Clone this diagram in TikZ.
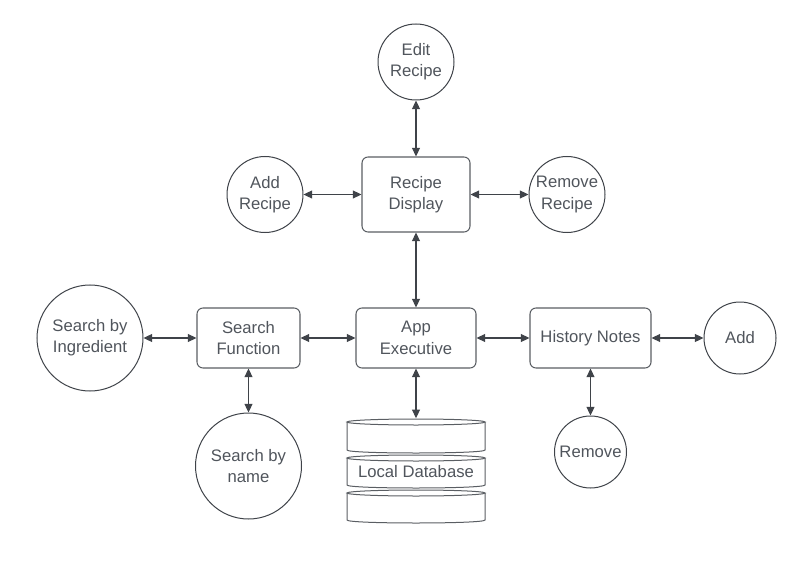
\documentclass[tikz,border=0pt]{standalone}
\usepackage{fontspec}
\setmainfont{Liberation Sans}
\usetikzlibrary{arrows.meta}
\definecolor{ln}{HTML}{3F4349}
\definecolor{bx}{HTML}{5A5E63}
\definecolor{tx}{HTML}{50555C}
\begin{document}
\begin{tikzpicture}[x=0.75pt,y=-0.75pt,
  lbl/.style={align=center, text=tx, font=\fontsize{12.5}{16}\selectfont, inner sep=0pt},
  box/.style={lbl, draw=bx, line width=0.8pt, rounded corners=4.5pt},
  circ/.style={lbl, draw=ln, line width=0.75pt, circle},
  conn/.style={draw=ln, line width=0.8pt, {Triangle[length=6.5pt,width=6pt]}-{Triangle[length=6.5pt,width=6pt]}},
  dbline/.style={draw=bx, line width=0.75pt}
]
\useasboundingbox (0,0) rectangle (806,570);

\node[box, minimum width=81pt, minimum height=56.25pt] (rd) at (416,194.5) {Recipe\\Display};
\node[box, minimum width=90pt, minimum height=45pt] (ae) at (416,338) {App\\Executive};
\node[box, minimum width=77.25pt, minimum height=45pt] (sf) at (248.5,338) {Search\\Function};
\node[box, minimum width=90.75pt, minimum height=45pt] (hn) at (590.5,338) {History Notes};

\node[circ, minimum size=57pt] (er) at (416,62) {Edit\\Recipe};
\node[circ, minimum size=57pt] (ar) at (265,194.5) {Add\\Recipe};
\node[circ, minimum size=57pt] (rr) at (567,194.5) {Remove\\Recipe};
\node[circ, minimum size=79.5pt] (si) at (90,338) {Search by\\Ingredient};
\node[circ, minimum size=54pt] (ad) at (740,338) {Add};
\node[circ, minimum size=79.5pt] (sn) at (248.5,466) {Search by\\name};
\node[circ, minimum size=54pt] (rm) at (590.5,452) {Remove};

% database
\foreach \t/\b in {419/453, 455/488, 490/523}{
  \draw[dbline] (416,\t+3) ellipse [x radius=51.75pt, y radius=2.25pt];
  \draw[dbline] (347,\t+3) -- (347,\b-3) .. controls (347,\b+1) and (485,\b+1) .. (485,\b-3) -- (485,\t+3);
}
\node[inner sep=0pt, minimum width=103.5pt, minimum height=78pt] (db) at (416,470.5) {};
\node[lbl] (dbl) at (416,472) {Local Database};

\draw[conn] (er) -- (rd);
\draw[conn] (ar) -- (rd);
\draw[conn] (rd) -- (rr);
\draw[conn] (rd) -- (ae);
\draw[conn] (si) -- (sf);
\draw[conn] (sf) -- (ae);
\draw[conn] (ae) -- (hn);
\draw[conn] (hn) -- (ad);
\draw[conn] (sf) -- (sn);
\draw[conn] (hn) -- (rm);
\draw[conn] (ae.south) -- (db.north);
\end{tikzpicture}
\end{document}
